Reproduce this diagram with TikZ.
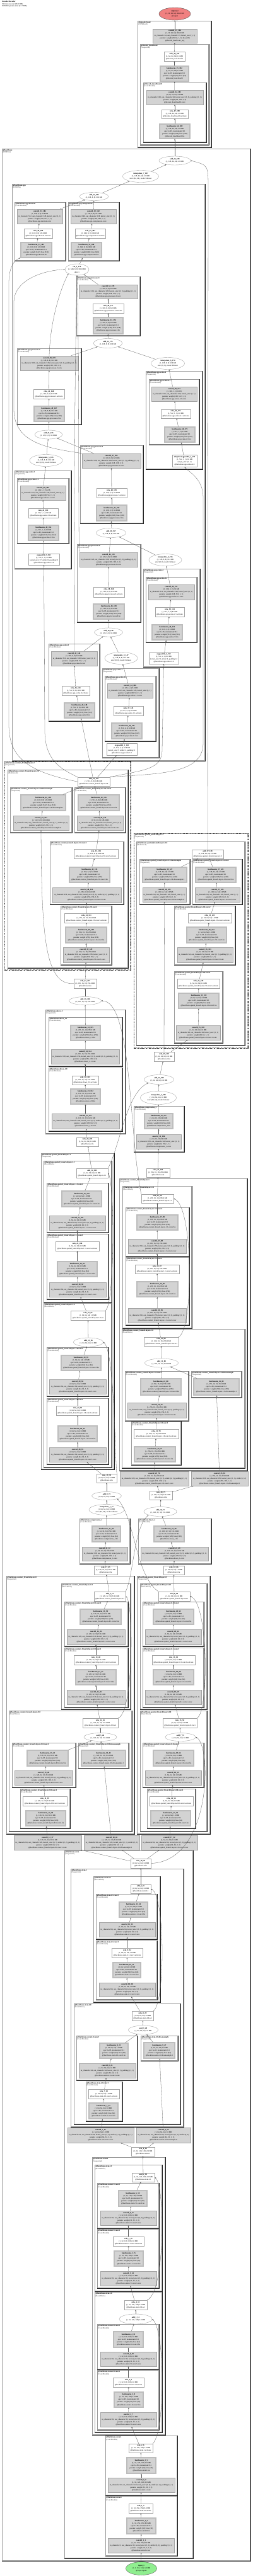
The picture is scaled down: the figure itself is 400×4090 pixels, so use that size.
\documentclass[tikz,border=0pt]{standalone}
\usepackage{fontspec}
\setmainfont{Liberation Serif}
\usetikzlibrary{fit,shapes.geometric,arrows.meta}
\definecolor{gfill}{HTML}{D3D3D3}
\definecolor{gbord}{HTML}{A3A3A3}
\definecolor{bbord}{HTML}{BDBDBD}
\definecolor{cbord}{HTML}{202020}
\definecolor{cinner}{HTML}{999999}
\definecolor{ecol}{HTML}{5A5A5A}
\definecolor{outfill}{HTML}{F08080}
\definecolor{infill}{HTML}{90EE90}
\tikzset{
  gn/.style={rectangle,draw=gbord,fill=gfill,line width=0.5pt,inner sep=0pt},
  bnn/.style={gn,draw=bbord,line width=1.3pt},
  wn/.style={rectangle,draw=gbord,fill=white,line width=0.5pt,inner sep=0pt},
  en/.style={ellipse,draw=gbord,fill=white,line width=0.4pt,inner sep=0pt},
  tx/.style={font=\fontsize{3}{4.1}\selectfont,align=center,inner sep=0pt},
  cl/.style={rectangle,draw=cbord,line width=0.65pt,inner sep=0pt},
  cin/.style={draw=cinner,line width=0.5pt},
  cld/.style={cl,dash pattern=on 1.6pt off 0.8pt},
  cind/.style={cin,dash pattern=on 1.6pt off 0.8pt},
  ct/.style={font=\fontsize{3}{3.5}\selectfont,align=left,inner sep=1.5pt,anchor=north west},
  e/.style={draw=ecol,line width=0.3pt,-{Stealth[length=2.2pt,width=1.8pt]}},
}
\newcommand\mkG[6]{\node[gn,fit={(#2,#3)(#4,#5)}] (#1) {};\node[tx] (#1t) at (#1.center) {#6};}
\newcommand\mkB[6]{\node[bnn,fit={(#2,#3)(#4,#5)}] (#1) {};\node[tx] (#1t) at (#1.center) {#6};}
\newcommand\mkW[6]{\node[wn,fit={(#2,#3)(#4,#5)}] (#1) {};\node[tx] (#1t) at (#1.center) {#6};}
\newcommand\mkE[6]{\node[en,minimum width=#4pt,minimum height=#5pt] (#1) at (#2,#3) {};\node[tx] (#1t) at (#1.center) {#6};}
\newcommand\mkC[7]{\node[cl,fit={(#2,#3)(#4,#5)}] (#1) {};\draw[cin] ([shift={(0.85,0.85)}]#1.north west) rectangle ([shift={(-0.85,-0.85)}]#1.south east);\node[ct] (#1t) at (#1.north west) {\textbf{#6}\\\textcolor{black!75}{#7}};}
\newcommand\mkD[7]{\node[cld,fit={(#2,#3)(#4,#5)}] (#1) {};\draw[cind] ([shift={(0.85,0.85)}]#1.north west) rectangle ([shift={(-0.85,-0.85)}]#1.south east);\node[ct] (#1t) at (#1.north west) {\textbf{#6}\\\textcolor{black!75}{#7}};}
\newcommand\txB[4]{\textbf{#1}\\#2\\eps=1e-05, momentum=0.1\\params: weight (#3); bias (#3)\\#4}
\newcommand\txC[5]{\textbf{#1}\\#2\\#3\\params: weight #4\\#5}
\newcommand\txR[3]{\textbf{#1}\\#2\\#3}
\newcommand\txE[2]{\textbf{#1}\\#2}
\newcommand\txI[3]{\textbf{#1}\\#2\\size=#3, mode=bilinear}
\newcommand\shTa{(1, 32, 256, 256) 8.0 MB}
\newcommand\shTb{(1, 32, 128, 128) 2.0 MB}
\newcommand\shS{(1, 64, 64, 64) 1.0 MB}
\newcommand\shSS{(1, 128, 64, 64) 2.0 MB}
\newcommand\shCa{(1, 128, 32, 32) 512.0 KB}
\newcommand\shCb{(1, 256, 16, 16) 256.0 KB}
\newcommand\shCd{(1, 256, 8, 8) 64.0 KB}
\newcommand\shCc{(1, 512, 8, 8) 128.0 KB}
\newcommand\shPa{(1, 128, 8, 8) 32.0 KB}
\newcommand\zthree[2]{in\_channels=#1, out\_channels=#2, kernel\_size=(3, 3), padding=(1, 1)}
\newcommand\zstr[2]{in\_channels=#1, out\_channels=#2, kernel\_size=(3, 3), stride=(2, 2), padding=(1, 1)}
\newcommand\zone[2]{in\_channels=#1, out\_channels=#2, kernel\_size=(1, 1)}
\newcommand\zdown[2]{in\_channels=#1, out\_channels=#2, kernel\_size=(1, 1), stride=(2, 2)}
\newcommand\pCB{@backbone.context\_branch.layers.}
\newcommand\pSB{@backbone.spatial\_branch.layers.}
\newcommand\pSPP{@backbone.spp.}
\begin{document}
\begin{tikzpicture}[x=1pt,y=-1pt]
\fill[white] (0,0) rectangle (400,4090);
\useasboundingbox (0,0) rectangle (400,4090);
\node[anchor=north west,font=\fontsize{3}{3.6}\selectfont,align=left,inner sep=0pt] (title) at (3,1.5) {\textbf{EncoderDecoder}\\194 tensors total (96.3 MB)\\5695059 params total (21.7 MB)};
% ---------------- decode head
\node[ellipse,draw=ecol,fill=outfill,line width=0.4pt,inner sep=0pt,minimum width=50pt,minimum height=20pt] (out) at (277,22) {};
\node[tx] (outt) at (out.center) {\txR{output\_1}{(1, 19, 64, 64) 304.0 KB}{@output}};
\mkC{dh}{218}{33}{335}{234}{@decode\_head}{(FCNHead)}
\mkG{cs}{242}{46}{312}{68}{\txC{conv2d\_55\_194}{(1, 19, 64, 64) 304.0 KB}{\zone{64}{19}}{(19, 64, 1, 1); bias (19)}{@decode\_head.conv\_seg}}
\mkC{dhh}{222}{70}{331}{230}{@decode\_head.head}{(Sequential)}
\mkW{r190}{260}{82}{293}{97}{\txR{relu\_48\_193}{\shS}{@decode\_head.head.2}}
\mkB{b182}{254}{105}{299}{129}{\txB{batchnorm\_55\_192}{\shS}{64}{@decode\_head.head.1}}
\mkC{dhh0}{227}{131}{327}{226}{@decode\_head.head.0}{(ConvModule)}
\mkG{c188}{232}{143}{322}{166}{\txC{conv2d\_54\_191}{\shS}{\zthree{128}{64}}{(64, 128, 3, 3)}{@decode\_head.head.0.conv}}
\mkW{r187}{256}{174}{298}{188}{\txR{relu\_47\_190}{\shSS}{@decode\_head.head.0.activate}}
\mkB{b189}{253}{197}{301}{220}{\txB{batchnorm\_54\_189}{\shSS}{128}{@decode\_head.head.0.bn}}
% ---------------- backbone
\mkC{bb}{3}{236}{397}{4066}{@backbone}{(DDRNet)}
\mkE{a189}{277}{255}{50}{14}{\txE{add\_24\_188}{\shSS}}
\mkE{i187}{223}{280}{57}{19}{\txI{interpolate\_7\_187}{\shSS}{(64, 64)}}
% spp
\mkC{spp}{19}{292}{325}{1208}{@backbone.spp}{(DAPPM)}
\mkE{a188}{149}{312}{46}{13}{\txE{add\_23\_186}{\shPa}}
\mkC{sc}{23}{321}{104}{414}{@backbone.spp.shortcut}{(ConvModule)}
\mkG{c185}{27}{332}{99}{355}{\txC{conv2d\_53\_185}{\shPa}{\zone{512}{128}}{(128, 512, 1, 1)}{\pSPP shortcut.conv}}
\mkW{r184}{38}{363}{83}{378}{\txR{relu\_46\_184}{\shCc}{\pSPP shortcut.activate}}
\mkB{b183}{33}{385}{82}{409}{\txB{batchnorm\_53\_183}{\shCc}{512}{\pSPP shortcut.bn}}
\mkC{cmp}{108}{321}{189}{414}{@backbone.spp.compression}{(ConvModule)}
\mkG{c182}{112}{332}{184}{355}{\txC{conv2d\_52\_182}{\shPa}{\zone{640}{128}}{(128, 640, 1, 1)}{\pSPP compression.conv}}
\mkW{r181}{119}{363}{167}{378}{\txR{relu\_45\_181}{(1, 640, 8, 8) 160.0 KB}{\pSPP compression.activate}}
\mkB{b180}{113}{385}{161}{409}{\txB{batchnorm\_52\_180}{(1, 640, 8, 8) 160.0 KB}{640}{\pSPP compression.bn}}
\mkE{cat}{122}{428}{38}{18}{\txR{cat\_1\_179}{(1, 640, 8, 8) 160.0 KB}{dim=1}}
\mkC{p3}{121}{439}{222}{533}{@backbone.spp.processes.3}{(ConvModule)}
\mkG{c178}{125}{452}{218}{474}{\txC{conv2d\_51\_178}{\shPa}{\zthree{128}{128}}{(128, 128, 3, 3)}{\pSPP processes.3.conv}}
\mkW{r177}{147}{482}{196}{497}{\txR{relu\_44\_177}{\shPa}{\pSPP processes.3.activate}}
\mkB{b176}{148}{504}{195}{530}{\txB{batchnorm\_51\_176}{\shPa}{128}{\pSPP processes.3.bn}}
\mkE{a175}{171}{545}{46}{15}{\txE{add\_22\_175}{\shPa}}
\mkE{i174}{266}{577}{53}{19}{\txI{interpolate\_6\_174}{\shPa}{(8, 8)}}
\mkC{p2}{27}{553}{129}{674}{@backbone.spp.processes.2}{(ConvModule)}
\mkG{c169}{32}{565}{124}{588}{\txC{conv2d\_49\_169}{\shPa}{\zthree{128}{128}}{(128, 128, 3, 3)}{\pSPP processes.2.conv}}
\mkW{r168}{53}{618}{102}{633}{\txR{relu\_42\_168}{\shPa}{\pSPP processes.2.activate}}
\mkB{b167}{54}{645}{102}{669}{\txB{batchnorm\_49\_167}{\shPa}{128}{\pSPP processes.2.bn}}
\mkC{s4}{231}{589}{321}{745}{@backbone.spp.scales.4}{(Sequential)}
\mkC{s41}{236}{602}{316}{706}{@backbone.spp.scales.4.1}{(ConvModule)}
\mkG{c173}{240}{614}{312}{637}{\txC{conv2d\_50\_173}{(1, 128, 1, 1) 512 B}{\zone{512}{128}}{(128, 512, 1, 1)}{\pSPP scales.4.1.conv}}
\mkW{r172}{255}{650}{302}{664}{\txR{relu\_43\_172}{(1, 512, 1, 1) 2.0 KB}{\pSPP scales.4.1.activate}}
\mkB{b171}{261}{678}{309}{702}{\txB{batchnorm\_50\_171}{(1, 512, 1, 1) 2.0 KB}{512}{\pSPP scales.4.1.bn}}
\mkW{ap170}{273}{722}{312}{741}{\textbf{adaptiveavgpool2d\_1\_170}\\(1, 512, 1, 1) 2.0 KB\\output\_size=(1, 1)\\\pSPP scales.4.0}
\mkE{a166}{77}{690}{44}{14}{\txE{add\_21\_166}{\shPa}}
\mkE{i165}{73}{731}{52}{19}{\txI{interpolate\_5\_165}{\shPa}{(8, 8)}}
\mkC{p1}{127}{707}{227}{831}{@backbone.spp.processes.1}{(ConvModule)}
\mkG{c160}{130}{720}{223}{743}{\txC{conv2d\_47\_160}{\shPa}{\zthree{128}{128}}{(128, 128, 3, 3)}{\pSPP processes.1.conv}}
\mkW{r159}{153}{775}{201}{790}{\txR{relu\_40\_159}{\shPa}{\pSPP processes.1.activate}}
\mkB{b158}{153}{802}{201}{827}{\txB{batchnorm\_47\_158}{\shPa}{128}{\pSPP processes.1.bn}}
\mkE{a157}{176}{846}{47}{15}{\txE{add\_20\_157}{\shPa}}
\mkC{s3}{23}{747}{113}{903}{@backbone.spp.scales.3}{(Sequential)}
\mkC{s31}{27}{759}{109}{863}{@backbone.spp.scales.3.1}{(ConvModule)}
\mkG{c164}{32}{771}{104}{794}{\txC{conv2d\_48\_164}{(1, 128, 1, 1) 512 B}{\zone{512}{128}}{(128, 512, 1, 1)}{\pSPP scales.3.1.conv}}
\mkW{r163}{45}{807}{92}{822}{\txR{relu\_41\_163}{(1, 512, 1, 1) 2.0 KB}{\pSPP scales.3.1.activate}}
\mkB{b162}{45}{834}{93}{858}{\txB{batchnorm\_48\_162}{(1, 512, 1, 1) 2.0 KB}{512}{\pSPP scales.3.1.bn}}
\mkW{ap161}{45}{879}{94}{897}{\textbf{avgpool2d\_3\_161}\\(1, 512, 1, 1) 2.0 KB\\kernel\_size=17, stride=8, padding=8\\\pSPP scales.3.0}
\mkC{p0}{122}{864}{223}{988}{@backbone.spp.processes.0}{(ConvModule)}
\mkG{c155}{126}{877}{218}{900}{\txC{conv2d\_45\_151}{\shPa}{\zthree{128}{128}}{(128, 128, 3, 3)}{\pSPP processes.0.conv}}
\mkW{r154}{148}{932}{197}{948}{\txR{relu\_38\_150}{\shPa}{\pSPP processes.0.activate}}
\mkB{b149}{148}{959}{197}{983}{\txB{batchnorm\_45\_149}{\shPa}{128}{\pSPP processes.0.bn}}
\mkE{i150}{262}{889}{52}{19}{\txI{interpolate\_4\_156}{\shPa}{(8, 8)}}
\mkC{s2}{227}{903}{317}{1059}{@backbone.spp.scales.2}{(Sequential)}
\mkC{s21}{231}{916}{312}{1020}{@backbone.spp.scales.2.1}{(ConvModule)}
\mkG{c153}{235}{928}{308}{952}{\txC{conv2d\_46\_155}{(1, 128, 2, 2) 2.0 KB}{\zone{512}{128}}{(128, 512, 1, 1)}{\pSPP scales.2.1.conv}}
\mkW{r152}{246}{964}{292}{979}{\txR{relu\_39\_154}{(1, 512, 2, 2) 8.0 KB}{\pSPP scales.2.1.activate}}
\mkB{b151}{241}{992}{289}{1016}{\txB{batchnorm\_46\_153}{(1, 512, 2, 2) 8.0 KB}{512}{\pSPP scales.2.1.bn}}
\mkW{ap150}{236}{1036}{283}{1054}{\textbf{avgpool2d\_2\_152}\\(1, 512, 2, 2) 8.0 KB\\kernel\_size=9, stride=4, padding=4\\\pSPP scales.2.0}
\mkE{a148}{172}{1004}{45}{14}{\txE{add\_19\_148}{\shPa}}
\mkE{i147}{192}{1045}{52}{19}{\txI{interpolate\_3\_147}{\shPa}{(8, 8)}}
\mkC{s0}{77}{1022}{158}{1145}{@backbone.spp.scales.0}{(ConvModule)}
\mkG{c142}{81}{1034}{154}{1057}{\txC{conv2d\_43\_142}{\shPa}{\zone{512}{128}}{(128, 512, 1, 1)}{\pSPP scales.0.conv}}
\mkW{r141}{98}{1089}{142}{1104}{\txR{relu\_36\_141}{\shCc}{\pSPP scales.0.activate}}
\mkB{b140}{102}{1116}{150}{1140}{\txB{batchnorm\_43\_140}{\shCc}{512}{\pSPP scales.0.bn}}
\mkC{s1}{162}{1061}{252}{1203}{@backbone.spp.scales.1}{(Sequential)}
\mkC{s11}{166}{1073}{247}{1177}{@backbone.spp.scales.1.1}{(ConvModule)}
\mkG{c146}{170}{1085}{242}{1108}{\txC{conv2d\_44\_146}{(1, 128, 4, 4) 8.0 KB}{\zone{512}{128}}{(128, 512, 1, 1)}{\pSPP scales.1.1.conv}}
\mkW{r145}{180}{1121}{227}{1136}{\txR{relu\_37\_145}{(1, 512, 4, 4) 32.0 KB}{\pSPP scales.1.1.activate}}
\mkB{b144}{177}{1148}{225}{1173}{\txB{batchnorm\_44\_144}{(1, 512, 4, 4) 32.0 KB}{512}{\pSPP scales.1.1.bn}}
\mkW{ap143}{169}{1180}{217}{1199}{\textbf{avgpool2d\_1\_143}\\(1, 512, 4, 4) 32.0 KB\\kernel\_size=5, stride=2, padding=2\\\pSPP scales.1.0}
% context layers.2
\mkD{cl2}{7}{1209}{207}{1540}{\pCB 2}{(Sequential)}
\mkC{cl20}{12}{1222}{203}{1537}{\pCB 2.0}{(Bottleneck)}
\mkW{a119}{123}{1234}{174}{1248}{\txR{add\_18\_139}{\shCc}{\pCB 2.0}}
\mkC{cl20d}{16}{1250}{114}{1322}{\pCB 2.0.downsample}{(Sequential)}
\mkB{b120}{33}{1262}{104}{1287}{\txB{batchnorm\_42\_138}{\shCc}{512}{\pCB 2.0.downsample.1}}
\mkG{c137}{21}{1295}{109}{1318}{\txC{conv2d\_42\_137}{\shCc}{\zdown{256}{512}}{(512, 256, 1, 1)}{\pCB 2.0.downsample.0}}
\mkC{cl20c3}{118}{1250}{199}{1322}{\pCB 2.0.conv3}{(ConvModule)}
\mkB{b136}{124}{1262}{189}{1287}{\txB{batchnorm\_41\_136}{\shCc}{512}{\pCB 2.0.conv3.bn}}
\mkG{c135}{122}{1295}{195}{1318}{\txC{conv2d\_41\_135}{\shCc}{\zone{256}{512}}{(512, 256, 1, 1)}{\pCB 2.0.conv3.conv}}
\mkC{cl20c2}{79}{1336}{196}{1436}{\pCB 2.0.conv2}{(ConvModule)}
\mkW{r134}{117}{1348}{187}{1363}{\txR{relu\_35\_134}{\shCd}{\pCB 2.0.conv2.activate}}
\mkB{b133}{110}{1377}{174}{1401}{\txB{batchnorm\_40\_133}{\shCd}{256}{\pCB 2.0.conv2.bn}}
\mkG{c132}{83}{1409}{192}{1433}{\txC{conv2d\_40\_132}{\shCd}{\zstr{256}{256}}{(256, 256, 3, 3)}{\pCB 2.0.conv2.conv}}
\mkC{cl20c1}{96}{1438}{177}{1532}{\pCB 2.0.conv1}{(ConvModule)}
\mkW{r131}{102}{1450}{172}{1465}{\txR{relu\_34\_131}{\shCb}{\pCB 2.0.conv1.activate}}
\mkB{b130}{104}{1472}{169}{1497}{\txB{batchnorm\_39\_130}{\shCb}{256}{\pCB 2.0.conv1.bn}}
\mkG{c129}{100}{1504}{173}{1528}{\txC{conv2d\_39\_129}{\shCb}{\zone{256}{256}}{(256, 256, 1, 1)}{\pCB 2.0.conv1.conv}}
\mkW{r128}{117}{1554}{153}{1569}{\txR{relu\_31\_117}{\shCb}{@backbone.relu}}
% spatial layers.2
\mkD{sl2}{212}{1323}{393}{1664}{\pSB 2}{(Sequential)}
\mkC{sl20}{216}{1336}{388}{1660}{\pSB 2.0}{(Bottleneck)}
\mkW{a127}{304}{1349}{354}{1363}{\txR{add\_17\_128}{\shSS}{\pSB 2.0}}
\mkC{sl20d}{221}{1364}{301}{1436}{\pSB 2.0.downsample}{(Sequential)}
\mkB{b126}{226}{1377}{296}{1401}{\txB{batchnorm\_38\_127}{\shSS}{128}{\pSB 2.0.downsample.1}}
\mkG{c125}{226}{1409}{295}{1432}{\txC{conv2d\_38\_126}{\shSS}{\zone{64}{128}}{(128, 64, 1, 1)}{\pSB 2.0.downsample.0}}
\mkC{sl20c3}{305}{1364}{384}{1436}{\pSB 2.0.conv3}{(ConvModule)}
\mkB{b124}{310}{1377}{374}{1401}{\txB{batchnorm\_37\_125}{\shSS}{128}{\pSB 2.0.conv3.bn}}
\mkG{c123}{309}{1409}{380}{1432}{\txC{conv2d\_37\_124}{\shSS}{\zone{64}{128}}{(128, 64, 1, 1)}{\pSB 2.0.conv3.conv}}
\mkC{sl20c2}{276}{1438}{373}{1532}{\pSB 2.0.conv2}{(ConvModule)}
\mkW{r122}{298}{1450}{367}{1465}{\txR{relu\_33\_123}{\shS}{\pSB 2.0.conv2.activate}}
\mkB{b121}{296}{1472}{359}{1497}{\txB{batchnorm\_36\_122}{\shS}{64}{\pSB 2.0.conv2.bn}}
\mkG{c120}{281}{1504}{369}{1528}{\txC{conv2d\_36\_121}{\shS}{\zthree{64}{64}}{(64, 64, 3, 3)}{\pSB 2.0.conv2.conv}}
\mkC{sl20c1}{276}{1542}{353}{1656}{\pSB 2.0.conv1}{(ConvModule)}
\mkW{r119}{281}{1554}{348}{1569}{\txR{relu\_32\_120}{\shS}{\pSB 2.0.conv1.activate}}
\mkB{b118}{283}{1577}{347}{1601}{\txB{batchnorm\_35\_119}{\shS}{64}{\pSB 2.0.conv1.bn}}
\mkG{c117}{279}{1628}{349}{1651}{\txC{conv2d\_35\_118}{\shS}{\zone{64}{64}}{(64, 64, 1, 1)}{\pSB 2.0.conv1.conv}}
% fusion 2
\mkE{a112}{135}{1589}{51}{13}{\txE{add\_16\_116}{\shCb}}
\mkC{d3}{72}{1603}{199}{1800}{@backbone.down\_2}{(Sequential)}
\mkC{d31}{77}{1615}{194}{1693}{@backbone.down\_2.1}{(ConvModule)}
\mkB{b110}{112}{1628}{159}{1652}{\txB{batchnorm\_34\_115}{\shCb}{256}{@backbone.down\_2.1.bn}}
\mkG{c109}{81}{1666}{189}{1689}{\txC{conv2d\_34\_114}{\shCb}{\zstr{128}{256}}{(256, 128, 3, 3)}{@backbone.down\_2.1.conv}}
\mkC{d30}{77}{1695}{194}{1796}{@backbone.down\_2.0}{(ConvModule)}
\mkW{r108}{114}{1708}{156}{1722}{\txR{relu\_30\_113}{\shCa}{@backbone.down\_2.0.activate}}
\mkB{b107}{112}{1729}{159}{1753}{\txB{batchnorm\_33\_112}{\shCa}{128}{@backbone.down\_2.0.bn}}
\mkG{c106}{82}{1768}{189}{1792}{\txC{conv2d\_33\_111}{\shCa}{\zstr{64}{128}}{(128, 64, 3, 3)}{@backbone.down\_2.0.conv}}
\mkW{r107}{121}{1806}{156}{1820}{\txR{relu\_28\_105}{\shS}{@backbone.relu}}
\mkW{r116}{244}{1670}{276}{1685}{\txR{relu\_29\_110}{\shS}{@backbone.relu}}
\mkE{a115}{252}{1714}{47}{15}{\txE{add\_15\_109}{\shS}}
\mkE{i114}{251}{1743}{57}{21}{\txI{interpolate\_2\_108}{\shS}{(64, 64)}}
\mkC{cp1}{212}{1756}{292}{1829}{@backbone.compression\_2}{(ConvModule)}
\mkB{b106}{229}{1768}{274}{1792}{\txB{batchnorm\_32\_107}{(1, 64, 16, 16) 64.0 KB}{64}{@backbone.compression\_2.bn}}
\mkG{c105}{216}{1801}{287}{1824}{\txC{conv2d\_32\_106}{(1, 64, 16, 16) 64.0 KB}{\zone{256}{64}}{(64, 256, 1, 1)}{@backbone.compression\_2.conv}}
\mkW{r104}{232}{1855}{269}{1869}{\txR{relu\_27\_104}{\shCb}{@backbone.relu}}
% spatial layers.1
\mkC{sl1}{65}{1831}{181}{2333}{\pSB 1}{(Sequential)}
\mkC{sl11}{69}{1843}{177}{2068}{\pSB 1.1}{(BasicBlock)}
\mkW{a101}{121}{1855}{171}{1870}{\txR{add\_14\_103}{\shS}{\pSB 1.1}}
\mkC{sl11c2}{74}{1878}{172}{1957}{\pSB 1.1.conv2}{(ConvModule)}
\mkB{b102}{98}{1891}{161}{1916}{\txB{batchnorm\_31\_102}{\shS}{64}{\pSB 1.1.conv2.bn}}
\mkG{c101}{78}{1930}{167}{1953}{\txC{conv2d\_31\_101}{\shS}{\zthree{64}{64}}{(64, 64, 3, 3)}{\pSB 1.1.conv2.conv}}
\mkC{sl11c1}{74}{1959}{172}{2063}{\pSB 1.1.conv1}{(ConvModule)}
\mkW{r100}{88}{1971}{157}{1986}{\txR{relu\_26\_100}{\shS}{\pSB 1.1.conv1.activate}}
\mkB{b99}{91}{2003}{154}{2027}{\txB{batchnorm\_30\_99}{\shS}{64}{\pSB 1.1.conv1.bn}}
\mkG{c98}{78}{2036}{168}{2059}{\txC{conv2d\_30\_98}{\shS}{\zthree{64}{64}}{(64, 64, 3, 3)}{\pSB 1.1.conv1.conv}}
\mkC{sl10}{69}{2069}{177}{2330}{\pSB 1.0}{(BasicBlock)}
\mkW{r97}{112}{2081}{167}{2096}{\txR{relu\_25\_97}{\shS}{\pSB 1.0.act}}
\mkE{a96}{140}{2131}{47}{14}{\txE{add\_13\_96}{\shS}}
\mkC{sl10c2}{74}{2139}{172}{2217}{\pSB 1.0.conv2}{(ConvModule)}
\mkB{b95}{97}{2152}{160}{2176}{\txB{batchnorm\_29\_95}{\shS}{64}{\pSB 1.0.conv2.bn}}
\mkG{c94}{78}{2190}{168}{2213}{\txC{conv2d\_29\_94}{\shS}{\zthree{64}{64}}{(64, 64, 3, 3)}{\pSB 1.0.conv2.conv}}
\mkC{sl10c1}{74}{2220}{172}{2325}{\pSB 1.0.conv1}{(ConvModule)}
\mkW{r93}{89}{2232}{157}{2247}{\txR{relu\_24\_93}{\shS}{\pSB 1.0.conv1.activate}}
\mkB{b92}{92}{2264}{154}{2289}{\txB{batchnorm\_28\_92}{\shS}{64}{\pSB 1.0.conv1.bn}}
\mkG{c91}{78}{2298}{168}{2321}{\txC{conv2d\_28\_91}{\shS}{\zthree{64}{64}}{(64, 64, 3, 3)}{\pSB 1.0.conv1.conv}}
% context layers.1
\mkC{cl1}{189}{1871}{392}{2335}{\pCB 1}{(Sequential)}
\mkC{cl11}{194}{1883}{304}{2109}{\pCB 1.1}{(BasicBlock)}
\mkW{a88}{224}{1896}{275}{1910}{\txR{add\_12\_90}{\shCb}{\pCB 1.1}}
\mkC{cl11c2}{199}{1917}{300}{1995}{\pCB 1.1.conv2}{(ConvModule)}
\mkB{b88}{217}{1929}{282}{1953}{\txB{batchnorm\_27\_89}{\shCb}{256}{\pCB 1.1.conv2.bn}}
\mkG{c87}{203}{1967}{295}{1990}{\txC{conv2d\_27\_88}{\shCb}{\zthree{256}{256}}{(256, 256, 3, 3)}{\pCB 1.1.conv2.conv}}
\mkC{cl11c1}{199}{1996}{300}{2104}{\pCB 1.1.conv1}{(ConvModule)}
\mkW{r86}{214}{2008}{284}{2022}{\txR{relu\_23\_87}{\shCb}{\pCB 1.1.conv1.activate}}
\mkB{b85}{217}{2035}{282}{2059}{\txB{batchnorm\_26\_86}{\shCb}{256}{\pCB 1.1.conv1.bn}}
\mkG{c84}{203}{2077}{295}{2100}{\txC{conv2d\_26\_85}{\shCb}{\zthree{256}{256}}{(256, 256, 3, 3)}{\pCB 1.1.conv1.conv}}
\mkC{cl10}{193}{2110}{388}{2331}{\pCB 1.0}{(BasicBlock)}
\mkW{r83}{228}{2123}{283}{2137}{\txR{relu\_22\_84}{\shCb}{\pCB 1.0.act}}
\mkE{a82}{256}{2164}{53}{14}{\txE{add\_11\_83}{\shCb}}
\mkC{cl10c2}{198}{2177}{299}{2256}{\pCB 1.0.conv2}{(ConvModule)}
\mkB{b79}{223}{2189}{287}{2215}{\txB{batchnorm\_24\_80}{\shCb}{256}{\pCB 1.0.conv2.bn}}
\mkG{c78}{202}{2227}{295}{2251}{\txC{conv2d\_24\_79}{\shCb}{\zthree{256}{256}}{(256, 256, 3, 3)}{\pCB 1.0.conv2.conv}}
\mkC{cl10d}{303}{2177}{383}{2219}{\pCB 1.0.downsample}{(Sequential)}
\mkB{b80}{307}{2189}{379}{2215}{\txB{batchnorm\_25\_82}{\shCb}{256}{\pCB 1.0.downsample.1}}
\mkC{cl10c1}{208}{2257}{287}{2326}{\pCB 1.0.conv1}{(ConvModule)}
\mkW{r77}{212}{2269}{283}{2284}{\txR{relu\_21\_78}{\shCb}{\pCB 1.0.conv1.activate}}
\mkB{b76}{213}{2297}{278}{2321}{\txB{batchnorm\_23\_77}{\shCb}{256}{\pCB 1.0.conv1.bn}}
\mkG{c75}{190}{2336}{299}{2359}{\txC{conv2d\_23\_76}{\shCb}{\zstr{128}{256}}{(256, 128, 3, 3)}{\pCB 1.0.conv1.conv}}
\mkG{c80}{303}{2336}{393}{2359}{\txC{conv2d\_25\_81}{\shCb}{\zdown{128}{256}}{(256, 128, 1, 1)}{\pCB 1.0.downsample.0}}
% fusion 1
\mkW{r90}{153}{2340}{185}{2354}{\txR{relu\_19\_74}{\shS}{@backbone.relu}}
\mkW{r74}{237}{2367}{273}{2381}{\txR{relu\_20\_75}{\shCa}{@backbone.relu}}
\mkE{a73}{169}{2375}{47}{13}{\txE{add\_9\_72}{\shS}}
\mkE{i72}{169}{2397}{56}{17}{\txI{interpolate\_1\_71}{\shS}{(64, 64)}}
\mkE{a71}{254}{2400}{52}{15}{\txE{add\_10\_73}{\shCa}}
\mkC{cp0}{126}{2411}{206}{2483}{@backbone.compression\_1}{(ConvModule)}
\mkB{b67}{146}{2423}{191}{2448}{\txB{batchnorm\_21\_68}{(1, 64, 32, 32) 256.0 KB}{64}{@backbone.compression\_1.bn}}
\mkG{c66}{130}{2456}{202}{2478}{\txC{conv2d\_21\_67}{(1, 64, 32, 32) 256.0 KB}{\zone{128}{64}}{(64, 128, 1, 1)}{@backbone.compression\_1.conv}}
\mkC{dn1}{219}{2411}{335}{2483}{@backbone.down\_1}{(ConvModule)}
\mkB{b70}{244}{2423}{292}{2448}{\txB{batchnorm\_22\_70}{\shCa}{128}{@backbone.down\_1.bn}}
\mkG{c69}{223}{2456}{330}{2478}{\txC{conv2d\_22\_69}{\shCa}{\zstr{64}{128}}{(128, 64, 3, 3)}{@backbone.down\_1.conv}}
\mkW{r65}{149}{2486}{186}{2500}{\txR{relu\_17\_65}{\shCa}{@backbone.relu}}
\mkW{r68}{259}{2486}{292}{2500}{\txR{relu\_18\_66}{\shS}{@backbone.relu}}
% context layers.0
\mkC{cl0}{10}{2502}{213}{2912}{\pCB 0}{(Sequential)}
\mkC{cl01}{97}{2514}{207}{2714}{\pCB 0.1}{(BasicBlock)}
\mkW{a52}{149}{2527}{199}{2542}{\txR{add\_6\_51}{\shCa}{\pCB 0.1}}
\mkC{cl01c2}{102}{2543}{203}{2614}{\pCB 0.1.conv2}{(ConvModule)}
\mkB{b50}{127}{2555}{192}{2579}{\txB{batchnorm\_16\_50}{\shCa}{128}{\pCB 0.1.conv2.bn}}
\mkG{c49}{106}{2587}{198}{2611}{\txC{conv2d\_16\_49}{\shCa}{\zthree{128}{128}}{(128, 128, 3, 3)}{\pCB 0.1.conv2.conv}}
\mkC{cl01c1}{102}{2616}{203}{2711}{\pCB 0.1.conv1}{(ConvModule)}
\mkW{r48}{117}{2628}{187}{2643}{\txR{relu\_13\_48}{\shCa}{\pCB 0.1.conv1.activate}}
\mkB{b47}{120}{2651}{184}{2675}{\txB{batchnorm\_15\_47}{\shCa}{128}{\pCB 0.1.conv1.bn}}
\mkG{c46}{106}{2683}{198}{2706}{\txC{conv2d\_15\_46}{\shCa}{\zthree{128}{128}}{(128, 128, 3, 3)}{\pCB 0.1.conv1.conv}}
\mkC{cl00}{14}{2716}{209}{2908}{\pCB 0.0}{(BasicBlock)}
\mkW{r43}{131}{2728}{187}{2743}{\txR{relu\_12\_45}{\shCa}{\pCB 0.0.act}}
\mkE{a44}{159}{2758}{52}{13}{\txE{add\_5\_44}{\shCa}}
\mkC{cl00c2}{19}{2767}{120}{2838}{\pCB 0.0.conv2}{(ConvModule)}
\mkB{b41}{43}{2779}{108}{2804}{\txB{batchnorm\_13\_41}{\shCa}{128}{\pCB 0.0.conv2.bn}}
\mkG{c40}{23}{2811}{115}{2834}{\txC{conv2d\_13\_40}{\shCa}{\zthree{128}{128}}{(128, 128, 3, 3)}{\pCB 0.0.conv2.conv}}
\mkC{cl00d}{124}{2767}{204}{2808}{\pCB 0.0.downsample}{(Sequential)}
\mkB{b45}{129}{2779}{199}{2804}{\txB{batchnorm\_14\_43}{\shCa}{128}{\pCB 0.0.downsample.1}}
\mkC{cl00c1}{32}{2840}{111}{2903}{\pCB 0.0.conv1}{(ConvModule)}
\mkW{r39}{36}{2852}{106}{2867}{\txR{relu\_11\_39}{\shCa}{\pCB 0.0.conv1.activate}}
\mkB{b38}{41}{2875}{104}{2899}{\txB{batchnorm\_12\_38}{\shCa}{128}{\pCB 0.0.conv1.bn}}
\mkG{c37}{22}{2914}{129}{2937}{\txC{conv2d\_12\_37}{\shCa}{\zstr{64}{128}}{(128, 64, 3, 3)}{\pCB 0.0.conv1.conv}}
\mkG{c41}{133}{2914}{221}{2937}{\txC{conv2d\_14\_42}{\shCa}{\zdown{64}{128}}{(128, 64, 1, 1)}{\pCB 0.0.downsample.0}}
% spatial layers.0
\mkC{sl0}{217}{2502}{333}{2912}{\pSB 0}{(Sequential)}
\mkC{sl01}{222}{2514}{328}{2714}{\pSB 0.1}{(BasicBlock)}
\mkW{a54}{251}{2527}{301}{2542}{\txR{add\_8\_64}{\shS}{\pSB 0.1}}
\mkC{sl01c2}{226}{2543}{323}{2614}{\pSB 0.1.conv2}{(ConvModule)}
\mkB{b53}{243}{2555}{307}{2579}{\txB{batchnorm\_20\_63}{\shS}{64}{\pSB 0.1.conv2.bn}}
\mkG{c52}{230}{2587}{319}{2611}{\txC{conv2d\_20\_62}{\shS}{\zthree{64}{64}}{(64, 64, 3, 3)}{\pSB 0.1.conv2.conv}}
\mkC{sl01c1}{226}{2616}{323}{2711}{\pSB 0.1.conv1}{(ConvModule)}
\mkW{r51}{241}{2628}{309}{2643}{\txR{relu\_16\_61}{\shS}{\pSB 0.1.conv1.activate}}
\mkB{b50s}{243}{2651}{307}{2675}{\txB{batchnorm\_19\_60}{\shS}{64}{\pSB 0.1.conv1.bn}}
\mkG{c49s}{230}{2683}{319}{2706}{\txC{conv2d\_19\_59}{\shS}{\zthree{64}{64}}{(64, 64, 3, 3)}{\pSB 0.1.conv1.conv}}
\mkC{sl00}{222}{2716}{328}{2908}{\pSB 0.0}{(BasicBlock)}
\mkW{r36}{258}{2728}{312}{2743}{\txR{relu\_15\_58}{\shS}{\pSB 0.0.act}}
\mkE{a37}{286}{2758}{48}{13}{\txE{add\_7\_57}{\shS}}
\mkC{sl00c2}{226}{2767}{323}{2838}{\pSB 0.0.conv2}{(ConvModule)}
\mkB{b34}{243}{2779}{307}{2804}{\txB{batchnorm\_18\_56}{\shS}{64}{\pSB 0.0.conv2.bn}}
\mkG{c33}{230}{2811}{319}{2834}{\txC{conv2d\_18\_55}{\shS}{\zthree{64}{64}}{(64, 64, 3, 3)}{\pSB 0.0.conv2.conv}}
\mkC{sl00c1}{233}{2840}{310}{2903}{\pSB 0.0.conv1}{(ConvModule)}
\mkW{r35}{237}{2852}{306}{2867}{\txR{relu\_14\_54}{\shS}{\pSB 0.0.conv1.activate}}
\mkB{b33}{239}{2875}{302}{2899}{\txB{batchnorm\_17\_53}{\shS}{64}{\pSB 0.0.conv1.bn}}
\mkG{c32}{224}{2914}{313}{2937}{\txC{conv2d\_17\_52}{\shS}{\zthree{64}{64}}{(64, 64, 3, 3)}{\pSB 0.0.conv1.conv}}
% stem
\mkC{stem}{102}{2938}{306}{4062}{@backbone.stem}{(Sequential)}
\mkW{r30}{207}{2951}{239}{2966}{\txR{relu\_10\_36}{\shS}{@backbone.relu}}
\mkC{st4}{112}{2967}{291}{3377}{@backbone.stem.4}{(Sequential)}
\mkC{st41}{148}{2979}{254}{3179}{@backbone.stem.4.1}{(BasicBlock)}
\mkW{a29}{207}{2992}{239}{3006}{\txR{add\_4\_35}{\shS}{@backbone.stem.4.1}}
\mkC{st41c2}{152}{3007}{249}{3079}{@backbone.stem.4.1.conv2}{(ConvModule)}
\mkB{b24}{189}{3020}{234}{3044}{\txB{batchnorm\_11\_34}{\shS}{64}{@backbone.stem.4.1.conv2.bn}}
\mkG{c23}{157}{3052}{246}{3075}{\txC{conv2d\_11\_33}{\shS}{\zthree{64}{64}}{(64, 64, 3, 3)}{@backbone.stem.4.1.conv2.conv}}
\mkC{st41c1}{152}{3081}{249}{3175}{@backbone.stem.4.1.conv1}{(ConvModule)}
\mkW{r22}{177}{3093}{226}{3108}{\txR{relu\_9\_32}{\shS}{@backbone.stem.4.1.conv1.activate}}
\mkB{b21}{179}{3116}{223}{3140}{\txB{batchnorm\_10\_31}{\shS}{64}{@backbone.stem.4.1.conv1.bn}}
\mkG{c20}{157}{3148}{246}{3170}{\txC{conv2d\_10\_30}{\shS}{\zthree{64}{64}}{(64, 64, 3, 3)}{@backbone.stem.4.1.conv1.conv}}
\mkC{st40}{117}{3181}{286}{3373}{@backbone.stem.4.0}{(BasicBlock)}
\mkW{r29b}{209}{3193}{243}{3208}{\txR{relu\_8\_29}{\shS}{@backbone.stem.4.0.act}}
\mkE{a26}{227}{3223}{47}{14}{\txE{add\_3\_28}{\shS}}
\mkC{st40c2}{121}{3232}{218}{3303}{@backbone.stem.4.0.conv2}{(ConvModule)}
\mkB{b25}{158}{3244}{203}{3268}{\txB{batchnorm\_8\_25}{\shS}{64}{@backbone.stem.4.0.conv2.bn}}
\mkG{c24}{125}{3276}{215}{3299}{\txC{conv2d\_8\_24}{\shS}{\zthree{64}{64}}{(64, 64, 3, 3)}{@backbone.stem.4.0.conv2.conv}}
\mkC{st40d}{223}{3232}{282}{3272}{@backbone.stem.4.0.downsample}{(Sequential)}
\mkB{b27}{228}{3243}{277}{3268}{\txB{batchnorm\_9\_27}{\shS}{64}{@backbone.stem.4.0.downsample.1}}
\mkC{st40c1}{136}{3305}{194}{3368}{@backbone.stem.4.0.conv1}{(ConvModule)}
\mkW{r24}{140}{3317}{189}{3332}{\txR{relu\_7\_23}{\shS}{@backbone.stem.4.0.conv1.activate}}
\mkB{b23}{141}{3339}{187}{3364}{\txB{batchnorm\_7\_22}{\shS}{64}{@backbone.stem.4.0.conv1.bn}}
\mkG{c23b}{107}{3378}{212}{3402}{\txC{conv2d\_7\_21}{\shS}{\zstr{32}{64}}{(64, 32, 3, 3)}{@backbone.stem.4.0.conv1.conv}}
\mkG{c26}{216}{3378}{302}{3402}{\txC{conv2d\_9\_26}{\shS}{\zdown{32}{64}}{(64, 32, 1, 1)}{@backbone.stem.4.0.downsample.0}}
\mkW{r18}{208}{3409}{245}{3423}{\txR{relu\_6\_20}{\shTb}{@backbone.stem.3}}
\mkC{st2}{146}{3425}{262}{3866}{@backbone.stem.2}{(Sequential)}
\mkC{st21}{150}{3437}{257}{3638}{@backbone.stem.2.1}{(BasicBlock)}
\mkW{a19}{209}{3450}{245}{3464}{\txR{add\_2\_19}{\shTb}{@backbone.stem.2.1}}
\mkC{st21c2}{154}{3466}{252}{3538}{@backbone.stem.2.1.conv2}{(ConvModule)}
\mkB{b18}{188}{3478}{233}{3503}{\txB{batchnorm\_6\_18}{\shTb}{32}{@backbone.stem.2.1.conv2.bn}}
\mkG{c17}{159}{3510}{248}{3533}{\txC{conv2d\_6\_17}{\shTb}{\zthree{32}{32}}{(32, 32, 3, 3)}{@backbone.stem.2.1.conv2.conv}}
\mkC{st21c1}{154}{3539}{252}{3633}{@backbone.stem.2.1.conv1}{(ConvModule)}
\mkW{r16}{179}{3551}{228}{3566}{\txR{relu\_5\_16}{\shTb}{@backbone.stem.2.1.conv1.activate}}
\mkB{b15}{181}{3574}{227}{3598}{\txB{batchnorm\_5\_15}{\shTb}{32}{@backbone.stem.2.1.conv1.bn}}
\mkG{c14}{159}{3606}{248}{3629}{\txC{conv2d\_5\_14}{\shTb}{\zthree{32}{32}}{(32, 32, 3, 3)}{@backbone.stem.2.1.conv1.conv}}
\mkC{st20}{150}{3639}{257}{3862}{@backbone.stem.2.0}{(BasicBlock)}
\mkW{r13}{197}{3652}{233}{3667}{\txR{relu\_4\_13}{\shTb}{@backbone.stem.2.0.act}}
\mkE{a12}{215}{3682}{52}{16}{\txE{add\_1\_12}{\shTb}}
\mkC{st20c2}{154}{3690}{252}{3762}{@backbone.stem.2.0.conv2}{(ConvModule)}
\mkB{b11}{180}{3702}{227}{3727}{\txB{batchnorm\_4\_11}{\shTb}{32}{@backbone.stem.2.0.conv2.bn}}
\mkG{c10}{159}{3734}{248}{3757}{\txC{conv2d\_4\_10}{\shTb}{\zthree{32}{32}}{(32, 32, 3, 3)}{@backbone.stem.2.0.conv2.conv}}
\mkC{st20c1}{154}{3763}{252}{3858}{@backbone.stem.2.0.conv1}{(ConvModule)}
\mkW{r9}{179}{3775}{228}{3790}{\txR{relu\_3\_9}{\shTb}{@backbone.stem.2.0.conv1.activate}}
\mkB{b8}{181}{3798}{227}{3822}{\txB{batchnorm\_3\_8}{\shTb}{32}{@backbone.stem.2.0.conv1.bn}}
\mkG{c7}{159}{3830}{248}{3853}{\txC{conv2d\_3\_7}{\shTb}{\zthree{32}{32}}{(32, 32, 3, 3)}{@backbone.stem.2.0.conv1.conv}}
\mkC{st1}{167}{3867}{281}{3962}{@backbone.stem.1}{(ConvModule)}
\mkW{r6}{204}{3880}{242}{3894}{\txR{relu\_2\_6}{\shTb}{@backbone.stem.1.activate}}
\mkB{b5}{201}{3902}{247}{3927}{\txB{batchnorm\_2\_5}{\shTb}{32}{@backbone.stem.1.bn}}
\mkG{c4}{171}{3934}{277}{3957}{\txC{conv2d\_2\_4}{\shTb}{\zstr{32}{32}}{(32, 32, 3, 3)}{@backbone.stem.1.conv}}
\mkC{st0}{167}{3963}{281}{4058}{@backbone.stem.0}{(ConvModule)}
\mkW{r3}{204}{3975}{242}{3990}{\txR{relu\_1\_3}{\shTa}{@backbone.stem.0.activate}}
\mkB{b2}{201}{3998}{247}{4023}{\txB{batchnorm\_1\_2}{\shTa}{32}{@backbone.stem.0.bn}}
\mkG{c1}{171}{4030}{276}{4053}{\txC{conv2d\_1\_1}{\shTa}{\zstr{3}{32}}{(32, 3, 3, 3)}{@backbone.stem.0.conv}}
\node[ellipse,draw=ecol,fill=infill,line width=0.4pt,inner sep=0pt,minimum width=49pt,minimum height=21pt] (inp) at (224,4078) {};
\node[tx] (inpt) at (inp.center) {\txR{input\_1}{(1, 3, 512, 512) 3.0 MB}{@input.inputs}};
% ---------------- straight edges
\foreach \ea/\eb in {inp/c1,c1/b2,b2/r3,r3/c4,c4/b5,b5/r6,r6/c7,c7/b8,b8/r9,r9/c10,c10/b11,b11/a12,a12/r13,r13/c14,c14/b15,b15/r16,r16/c17,c17/b18,b18/a19,a19/r18,r18/c23b,r18/c26,c23b/b23,b23/r24,r24/c24,c24/b25,b25/a26,c26/b27,b27/a26,a26/r29b,r29b/c20,c20/b21,b21/r22,r22/c23,c23/b24,b24/a29,a29/r30,r30/c37,r30/c41,r30/c32,
c37/b38,b38/r39,r39/c40,c40/b41,b41/a44,c41/b45,b45/a44,a44/r43,r43/c46,c46/b47,b47/r48,r48/c49,c49/b50,b50/a52,
c32/b33,b33/r35,r35/c33,c33/b34,b34/a37,a37/r36,r36/c49s,c49s/b50s,b50s/r51,r51/c52,c52/b53,b53/a54,
a52/r65,a54/r68,r65/c66,c66/b67,b67/i72,i72/a73,r68/c69,c69/b70,b70/a71,a73/r90,a71/r74,r74/c75,r74/c80,
c75/b76,b76/r77,r77/c78,c78/b79,b79/a82,c80/b80,b80/a82,a82/r83,r83/c84,c84/b85,b85/r86,r86/c87,c87/b88,b88/a88,
r90/c91,c91/b92,b92/r93,r93/c94,c94/b95,b95/a96,a96/r97,r97/c98,c98/b99,b99/r100,r100/c101,c101/b102,b102/a101,
a101/r107,a88/r104,r107/c106,c106/b107,b107/r108,r108/c109,c109/b110,b110/a112,r104/c105,c105/b106,b106/i114,i114/a115,a115/r116,a112/r128,
r116/c117,c117/b118,b118/r119,r119/c120,c120/b121,b121/r122,r122/c123,c123/b124,b124/a127,r116/c125,c125/b126,b126/a127,
r128/c129,c129/b130,b130/r131,r131/c132,c132/b133,b133/r134,r134/c135,c135/b136,b136/a119,c137/b120,b120/a119,
a119/b140,a119/ap143,b183/r184,r184/c185,c185/a188,b140/r141,r141/c142,c142/a148,ap143/b144,b144/r145,r145/c146,c146/i147,i147/a148,
a148/b149,b149/r154,r154/c155,c155/a157,ap150/b151,b151/r152,r152/c153,c153/i150,i150/a157,a157/b158,b158/r159,r159/c160,c160/a166,
ap161/b162,b162/r163,r163/c164,c164/i165,i165/a166,a166/b167,b167/r168,r168/c169,c169/a175,ap170/b171,b171/r172,r172/c173,c173/i174,i174/a175,
a175/b176,b176/r177,r177/c178,c178/cat,cat/b180,b180/r181,r181/c182,c182/a188,a188/i187,i187/a189,
a189/b189,b189/r187,r187/c188,c188/b182,b182/r190,r190/cs,cs/out}
  {\draw[e] (\ea) -- (\eb);}
% ---------------- curved edges
\draw[e] (r6.north east) .. controls (262,3860) and (262,3700) .. (a12.east);
\draw[e] (r13.north east) .. controls (262,3640) and (262,3470) .. (a19.east);
\draw[e] (r29b.north east) .. controls (262,3180) and (262,3010) .. (a29.east);
\draw[e] (r30.east) .. controls (336,2955) and (336,2770) .. (a37.east);
\draw[e] (r43.north east) .. controls (212,2720) and (212,2545) .. (a52.east);
\draw[e] (r36.north east) .. controls (331,2720) and (331,2545) .. (a54.east);
\draw[e] (a52.north east) .. controls (212,2500) and (212,2425) .. (a71.south west);
\draw[e] (a54.north west) .. controls (214,2500) and (214,2410) .. (a73.south east);
\draw[e] (r83.north east) .. controls (307,2110) and (307,1915) .. (a88.east);
\draw[e] (r90.north east) .. controls (182,2320) and (182,2145) .. (a96.east);
\draw[e] (r97.north east) .. controls (182,2070) and (182,1880) .. (a101.east);
\draw[e] (a101.north east) .. controls (190,1820) and (200,1735) .. (a115.south west);
\draw[e] (a88.north west) .. controls (204,1800) and (210,1589) .. (a112.east);
\coordinate (kA) at (330,300);
\draw[e] (a127.north) -- (kA) .. controls (330,262) .. (a189.east);
\draw[e] (r128.west) .. controls (70,1565) and (66,1480) .. (c137.south);
\coordinate (kB) at (257,1190);
\draw[e] (a119.north east) .. controls (230,1222) and (257,1222) .. (kB) -- (ap150.south);
\coordinate (kC) at (322,1180);
\coordinate (kD) at (322,790);
\draw[e] (a119.north east) .. controls (250,1228) and (322,1230) .. (kC) -- (kD) .. controls (322,760) and (300,750) .. (ap170.south);
\coordinate (kE) at (71,1160);
\draw[e] (a119.north west) .. controls (100,1222) and (71,1210) .. (kE) -- (ap161.south);
\coordinate (kF) at (14,1150);
\coordinate (kG) at (14,450);
\draw[e] (a119.west) .. controls (40,1225) and (14,1200) .. (kF) -- (kG) .. controls (14,420) and (25,412) .. (b183.south west);
\coordinate (kH) at (22,650);
\coordinate (kI) at (22,480);
\draw[e] (c160.north west) .. controls (80,712) and (22,705) .. (kH) -- (kI) .. controls (22,440) and (80,428) .. (cat.west);
\draw[e] (c142.north) .. controls (117,900) and (118,600) .. (cat.south);
\draw[e] (c155.north west) .. controls (124,850) and (126,560) .. (cat.south);
\draw[e] (c169.north) .. controls (80,500) and (100,450) .. (cat.south west);
\end{tikzpicture}
\end{document}
